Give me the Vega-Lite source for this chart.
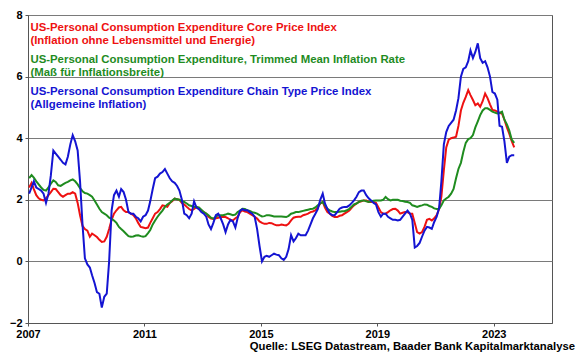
{
  "$schema": "https://vega.github.io/schema/vega-lite/v6.json",
  "width": 524,
  "height": 308,
  "autosize": {"type": "none"},
  "padding": {"left": 28, "top": 15, "right": 28, "bottom": 35},
  "background": "white",
  "config": {
    "font": "Liberation Sans",
    "view": {"stroke": "#555555", "strokeWidth": 1},
    "axis": {"labelFont": "Liberation Sans", "labelFontWeight": "bold", "labelFontSize": 11, "labelColor": "#000000", "domainColor": "#555555", "tickColor": "#555555", "tickSize": 3, "labelPadding": 3, "title": null}
  },
  "title": {"text": "Quelle: LSEG Datastream, Baader Bank Kapitalmarktanalyse", "orient": "bottom", "anchor": "end", "fontSize": 11.3, "fontWeight": "bold", "font": "Liberation Sans", "color": "#000000", "offset": 2, "dx": 23},
  "datasets": {
    "series": [
{"d":"2007-01-15","c":2.4,"t":2.7,"p":2.2},{"d":"2007-02-15","c":2.55,"t":2.8,"p":2.4},{"d":"2007-03-15","c":2.35,"t":2.72,"p":2.6},{"d":"2007-04-15","c":2.15,"t":2.6,"p":2.4},{"d":"2007-05-15","c":2.05,"t":2.5,"p":2.35},{"d":"2007-06-15","c":2.0,"t":2.4,"p":2.3},{"d":"2007-07-15","c":1.98,"t":2.32,"p":2.2},{"d":"2007-08-15","c":2.05,"t":2.3,"p":1.9},{"d":"2007-09-15","c":2.15,"t":2.4,"p":2.2},{"d":"2007-10-15","c":2.25,"t":2.52,"p":2.8},{"d":"2007-11-15","c":2.36,"t":2.63,"p":3.6},{"d":"2007-12-15","c":2.35,"t":2.58,"p":3.5},
{"d":"2008-01-15","c":2.25,"t":2.47,"p":3.4},{"d":"2008-02-15","c":2.15,"t":2.45,"p":3.3},{"d":"2008-03-15","c":2.1,"t":2.5,"p":3.2},{"d":"2008-04-15","c":2.15,"t":2.55,"p":3.15},{"d":"2008-05-15","c":2.2,"t":2.58,"p":3.4},{"d":"2008-06-15","c":2.2,"t":2.63,"p":3.8},{"d":"2008-07-15","c":2.25,"t":2.66,"p":4.1},{"d":"2008-08-15","c":2.2,"t":2.6,"p":3.9},{"d":"2008-09-15","c":1.9,"t":2.5,"p":3.6},{"d":"2008-10-15","c":1.5,"t":2.38,"p":2.6},{"d":"2008-11-15","c":1.15,"t":2.28,"p":1.2},{"d":"2008-12-15","c":1.05,"t":2.22,"p":0.1},
{"d":"2009-01-15","c":1.0,"t":2.2,"p":-0.1},{"d":"2009-02-15","c":0.8,"t":2.15,"p":-0.2},{"d":"2009-03-15","c":0.9,"t":2.1,"p":-0.45},{"d":"2009-04-15","c":0.85,"t":1.98,"p":-0.7},{"d":"2009-05-15","c":0.79,"t":1.85,"p":-1.0},{"d":"2009-06-15","c":0.7,"t":1.71,"p":-1.05},{"d":"2009-07-15","c":0.63,"t":1.6,"p":-1.5},{"d":"2009-08-15","c":0.65,"t":1.55,"p":-1.15},{"d":"2009-09-15","c":0.8,"t":1.5,"p":-1.05},{"d":"2009-10-15","c":1.05,"t":1.42,"p":0.0},{"d":"2009-11-15","c":1.35,"t":1.38,"p":1.65},{"d":"2009-12-15","c":1.55,"t":1.33,"p":2.15},
{"d":"2010-01-15","c":1.66,"t":1.25,"p":2.3},{"d":"2010-02-15","c":1.75,"t":1.12,"p":2.1},{"d":"2010-03-15","c":1.77,"t":1.05,"p":2.35},{"d":"2010-04-15","c":1.66,"t":0.98,"p":2.25},{"d":"2010-05-15","c":1.6,"t":0.9,"p":2.0},{"d":"2010-06-15","c":1.6,"t":0.82,"p":1.6},{"d":"2010-07-15","c":1.55,"t":0.8,"p":1.55},{"d":"2010-08-15","c":1.5,"t":0.81,"p":1.55},{"d":"2010-09-15","c":1.4,"t":0.84,"p":1.45},{"d":"2010-10-15","c":1.25,"t":0.85,"p":1.4},{"d":"2010-11-15","c":1.12,"t":0.82,"p":1.3},{"d":"2010-12-15","c":1.1,"t":0.8,"p":1.45},
{"d":"2011-01-15","c":1.08,"t":0.82,"p":1.5},{"d":"2011-02-15","c":1.1,"t":0.92,"p":1.65},{"d":"2011-03-15","c":1.25,"t":1.02,"p":1.95},{"d":"2011-04-15","c":1.4,"t":1.2,"p":2.35},{"d":"2011-05-15","c":1.55,"t":1.33,"p":2.7},{"d":"2011-06-15","c":1.6,"t":1.45,"p":2.75},{"d":"2011-07-15","c":1.7,"t":1.55,"p":2.85},{"d":"2011-08-15","c":1.82,"t":1.65,"p":2.9},{"d":"2011-09-15","c":1.8,"t":1.77,"p":3.0},{"d":"2011-10-15","c":1.77,"t":1.85,"p":2.85},{"d":"2011-11-15","c":1.9,"t":1.9,"p":2.7},{"d":"2011-12-15","c":1.95,"t":1.98,"p":2.6},
{"d":"2012-01-15","c":2.04,"t":2.04,"p":2.55},{"d":"2012-02-15","c":2.02,"t":2.02,"p":2.45},{"d":"2012-03-15","c":2.0,"t":2.0,"p":2.3},{"d":"2012-04-15","c":1.9,"t":1.95,"p":2.0},{"d":"2012-05-15","c":1.85,"t":1.93,"p":1.55},{"d":"2012-06-15","c":1.77,"t":1.88,"p":1.5},{"d":"2012-07-15","c":1.7,"t":1.82,"p":1.4},{"d":"2012-08-15","c":1.66,"t":1.8,"p":1.55},{"d":"2012-09-15","c":1.7,"t":1.77,"p":1.95},{"d":"2012-10-15","c":1.77,"t":1.77,"p":1.75},{"d":"2012-11-15","c":1.7,"t":1.75,"p":1.7},{"d":"2012-12-15","c":1.66,"t":1.68,"p":1.6},
{"d":"2013-01-15","c":1.6,"t":1.6,"p":1.55},{"d":"2013-02-15","c":1.55,"t":1.55,"p":1.45},{"d":"2013-03-15","c":1.45,"t":1.5,"p":1.2},{"d":"2013-04-15","c":1.39,"t":1.42,"p":1.05},{"d":"2013-05-15","c":1.38,"t":1.39,"p":1.25},{"d":"2013-06-15","c":1.4,"t":1.45,"p":1.5},{"d":"2013-07-15","c":1.42,"t":1.5,"p":1.55},{"d":"2013-08-15","c":1.44,"t":1.5,"p":1.4},{"d":"2013-09-15","c":1.45,"t":1.5,"p":1.2},{"d":"2013-10-15","c":1.44,"t":1.52,"p":0.95},{"d":"2013-11-15","c":1.4,"t":1.55,"p":1.2},{"d":"2013-12-15","c":1.35,"t":1.53,"p":1.35},
{"d":"2014-01-15","c":1.33,"t":1.5,"p":1.3},{"d":"2014-02-15","c":1.4,"t":1.52,"p":1.1},{"d":"2014-03-15","c":1.45,"t":1.6,"p":1.4},{"d":"2014-04-15","c":1.6,"t":1.65,"p":1.65},{"d":"2014-05-15","c":1.66,"t":1.71,"p":1.7},{"d":"2014-06-15","c":1.62,"t":1.7,"p":1.66},{"d":"2014-07-15","c":1.6,"t":1.66,"p":1.66},{"d":"2014-08-15","c":1.55,"t":1.64,"p":1.6},{"d":"2014-09-15","c":1.5,"t":1.6,"p":1.55},{"d":"2014-10-15","c":1.45,"t":1.58,"p":1.45},{"d":"2014-11-15","c":1.39,"t":1.55,"p":1.05},{"d":"2014-12-15","c":1.3,"t":1.5,"p":0.5},
{"d":"2015-01-15","c":1.25,"t":1.46,"p":0.0},{"d":"2015-02-15","c":1.22,"t":1.47,"p":0.15},{"d":"2015-03-15","c":1.22,"t":1.5,"p":0.18},{"d":"2015-04-15","c":1.25,"t":1.5,"p":0.15},{"d":"2015-05-15","c":1.24,"t":1.48,"p":0.2},{"d":"2015-06-15","c":1.2,"t":1.46,"p":0.25},{"d":"2015-07-15","c":1.17,"t":1.46,"p":0.22},{"d":"2015-08-15","c":1.17,"t":1.46,"p":0.2},{"d":"2015-09-15","c":1.2,"t":1.46,"p":0.1},{"d":"2015-10-15","c":1.18,"t":1.45,"p":0.05},{"d":"2015-11-15","c":1.17,"t":1.44,"p":0.15},{"d":"2015-12-15","c":1.22,"t":1.48,"p":0.4},
{"d":"2016-01-15","c":1.33,"t":1.55,"p":0.85},{"d":"2016-02-15","c":1.42,"t":1.57,"p":0.65},{"d":"2016-03-15","c":1.44,"t":1.6,"p":0.75},{"d":"2016-04-15","c":1.45,"t":1.6,"p":0.9},{"d":"2016-05-15","c":1.45,"t":1.62,"p":0.85},{"d":"2016-06-15","c":1.5,"t":1.64,"p":0.85},{"d":"2016-07-15","c":1.52,"t":1.66,"p":0.85},{"d":"2016-08-15","c":1.55,"t":1.68,"p":1.0},{"d":"2016-09-15","c":1.6,"t":1.7,"p":1.2},{"d":"2016-10-15","c":1.62,"t":1.71,"p":1.4},{"d":"2016-11-15","c":1.66,"t":1.75,"p":1.55},{"d":"2016-12-15","c":1.75,"t":1.82,"p":1.7},
{"d":"2017-01-15","c":1.88,"t":1.88,"p":2.0},{"d":"2017-02-15","c":1.93,"t":1.93,"p":2.2},{"d":"2017-03-15","c":1.75,"t":1.82,"p":1.88},{"d":"2017-04-15","c":1.6,"t":1.71,"p":1.7},{"d":"2017-05-15","c":1.55,"t":1.66,"p":1.55},{"d":"2017-06-15","c":1.48,"t":1.62,"p":1.5},{"d":"2017-07-15","c":1.44,"t":1.6,"p":1.5},{"d":"2017-08-15","c":1.44,"t":1.6,"p":1.6},{"d":"2017-09-15","c":1.48,"t":1.61,"p":1.71},{"d":"2017-10-15","c":1.5,"t":1.63,"p":1.75},{"d":"2017-11-15","c":1.55,"t":1.63,"p":1.77},{"d":"2017-12-15","c":1.6,"t":1.66,"p":1.77},
{"d":"2018-01-15","c":1.65,"t":1.71,"p":1.82},{"d":"2018-02-15","c":1.75,"t":1.78,"p":1.9},{"d":"2018-03-15","c":1.82,"t":1.85,"p":1.98},{"d":"2018-04-15","c":1.88,"t":1.88,"p":2.1},{"d":"2018-05-15","c":1.93,"t":1.93,"p":2.25},{"d":"2018-06-15","c":1.95,"t":1.97,"p":2.3},{"d":"2018-07-15","c":1.98,"t":1.98,"p":2.3},{"d":"2018-08-15","c":1.98,"t":1.95,"p":2.15},{"d":"2018-09-15","c":1.93,"t":1.93,"p":2.05},{"d":"2018-10-15","c":1.93,"t":1.95,"p":1.98},{"d":"2018-11-15","c":1.93,"t":1.97,"p":1.9},{"d":"2018-12-15","c":1.9,"t":1.98,"p":1.85},
{"d":"2019-01-15","c":1.75,"t":1.98,"p":1.6},{"d":"2019-02-15","c":1.6,"t":1.98,"p":1.45},{"d":"2019-03-15","c":1.55,"t":2.0,"p":1.55},{"d":"2019-04-15","c":1.55,"t":2.09,"p":1.55},{"d":"2019-05-15","c":1.6,"t":2.02,"p":1.45},{"d":"2019-06-15","c":1.66,"t":1.98,"p":1.4},{"d":"2019-07-15","c":1.7,"t":2.0,"p":1.35},{"d":"2019-08-15","c":1.71,"t":2.0,"p":1.35},{"d":"2019-09-15","c":1.65,"t":2.0,"p":1.33},{"d":"2019-10-15","c":1.55,"t":1.97,"p":1.35},{"d":"2019-11-15","c":1.58,"t":1.96,"p":1.45},{"d":"2019-12-15","c":1.6,"t":1.94,"p":1.55},
{"d":"2020-01-15","c":1.6,"t":1.93,"p":1.65},{"d":"2020-02-15","c":1.55,"t":1.9,"p":1.55},{"d":"2020-03-15","c":1.55,"t":1.82,"p":1.35},{"d":"2020-04-15","c":1.25,"t":1.8,"p":0.45},{"d":"2020-05-15","c":0.95,"t":1.77,"p":0.5},{"d":"2020-06-15","c":0.9,"t":1.8,"p":0.6},{"d":"2020-07-15","c":0.95,"t":1.82,"p":0.8},{"d":"2020-08-15","c":1.12,"t":1.85,"p":1.0},{"d":"2020-09-15","c":1.35,"t":1.84,"p":1.12},{"d":"2020-10-15","c":1.38,"t":1.8,"p":1.1},{"d":"2020-11-15","c":1.33,"t":1.77,"p":1.06},{"d":"2020-12-15","c":1.4,"t":1.72,"p":1.28},
{"d":"2021-01-15","c":1.5,"t":1.7,"p":1.45},{"d":"2021-02-15","c":1.7,"t":1.71,"p":1.75},{"d":"2021-03-15","c":2.1,"t":1.82,"p":2.6},{"d":"2021-04-15","c":2.96,"t":1.98,"p":3.8},{"d":"2021-05-15","c":3.7,"t":2.04,"p":4.2},{"d":"2021-06-15","c":3.95,"t":2.1,"p":4.4},{"d":"2021-07-15","c":4.0,"t":2.2,"p":4.5},{"d":"2021-08-15","c":4.02,"t":2.35,"p":4.6},{"d":"2021-09-15","c":4.05,"t":2.7,"p":4.9},{"d":"2021-10-15","c":4.4,"t":3.0,"p":5.3},{"d":"2021-11-15","c":4.9,"t":3.2,"p":6.0},{"d":"2021-12-15","c":5.15,"t":3.55,"p":6.25},
{"d":"2022-01-15","c":5.34,"t":3.85,"p":6.3},{"d":"2022-02-15","c":5.56,"t":3.97,"p":6.5},{"d":"2022-03-15","c":5.4,"t":4.0,"p":6.85},{"d":"2022-04-15","c":5.24,"t":4.1,"p":6.6},{"d":"2022-05-15","c":5.07,"t":4.35,"p":6.8},{"d":"2022-06-15","c":5.13,"t":4.55,"p":7.08},{"d":"2022-07-15","c":5.02,"t":4.75,"p":6.6},{"d":"2022-08-15","c":5.2,"t":4.9,"p":6.45},{"d":"2022-09-15","c":5.45,"t":4.97,"p":6.5},{"d":"2022-10-15","c":5.3,"t":4.97,"p":6.3},{"d":"2022-11-15","c":5.1,"t":4.92,"p":6.0},{"d":"2022-12-15","c":4.92,"t":4.86,"p":5.5},
{"d":"2023-01-15","c":4.9,"t":4.83,"p":5.45},{"d":"2023-02-15","c":4.86,"t":4.8,"p":5.25},{"d":"2023-03-15","c":4.82,"t":4.82,"p":4.4},{"d":"2023-04-15","c":4.8,"t":4.86,"p":4.37},{"d":"2023-05-15","c":4.6,"t":4.6,"p":3.9},{"d":"2023-06-15","c":4.35,"t":4.45,"p":3.2},{"d":"2023-07-15","c":4.15,"t":4.25,"p":3.4},{"d":"2023-08-15","c":3.9,"t":3.95,"p":3.45},{"d":"2023-09-15","c":3.7,"t":3.85,"p":3.45}
    ]
  },
  "data": {"name": "series"},
  "transform": [{"fold": ["c", "t", "p"], "as": ["s", "v"]}],
  "mark": {"type": "line", "strokeWidth": 2, "clip": true},
  "encoding": {
    "x": {
      "field": "d", "type": "temporal",
      "scale": {"domain": [{"year": 2007, "month": 1, "date": 1}, {"year": 2025, "month": 1, "date": 1}]},
      "axis": {"values": [{"year": 2007, "month": 1, "date": 1}, {"year": 2011, "month": 1, "date": 1}, {"year": 2015, "month": 1, "date": 1}, {"year": 2019, "month": 1, "date": 1}, {"year": 2023, "month": 1, "date": 1}], "format": "%Y", "grid": false, "labelPadding": 2, "labelFlush": false}
    },
    "y": {
      "field": "v", "type": "quantitative",
      "scale": {"domain": [-2, 8], "nice": false, "zero": false},
      "axis": {"values": [-2, 0, 2, 4, 6, 8], "grid": true, "gridColor": "#7a7a7a", "gridWidth": 1, "labelFlush": false}
    },
    "color": {
      "field": "s", "type": "nominal",
      "scale": {"domain": ["c", "t", "p"], "range": ["#ee1111", "#1f8c1f", "#1414d2"]},
      "legend": {
        "orient": "top-left", "offset": 7, "padding": 0, "title": null,
        "symbolSize": 0, "symbolOpacity": 0, "symbolStrokeWidth": 0, "labelOffset": -16,
        "labelFont": "Liberation Sans", "labelFontWeight": "bold", "labelFontSize": 11.4, "labelLimit": 500,
        "rowPadding": 6,
        "labelColor": {"expr": "scale('color', datum.value)"},
        "labelExpr": "datum.value == 'c' ? ['US-Personal Consumption Expenditure Core Price Index', '(Inflation ohne Lebensmittel und Energie)'] : datum.value == 't' ? ['US-Personal Consumption Expenditure, Trimmed Mean Inflation Rate', '(Maß für Inflationsbreite)'] : ['US-Personal Consumption Expenditure Chain Type Price Index', '(Allgemeine Inflation)']"
      }
    }
  }
}
